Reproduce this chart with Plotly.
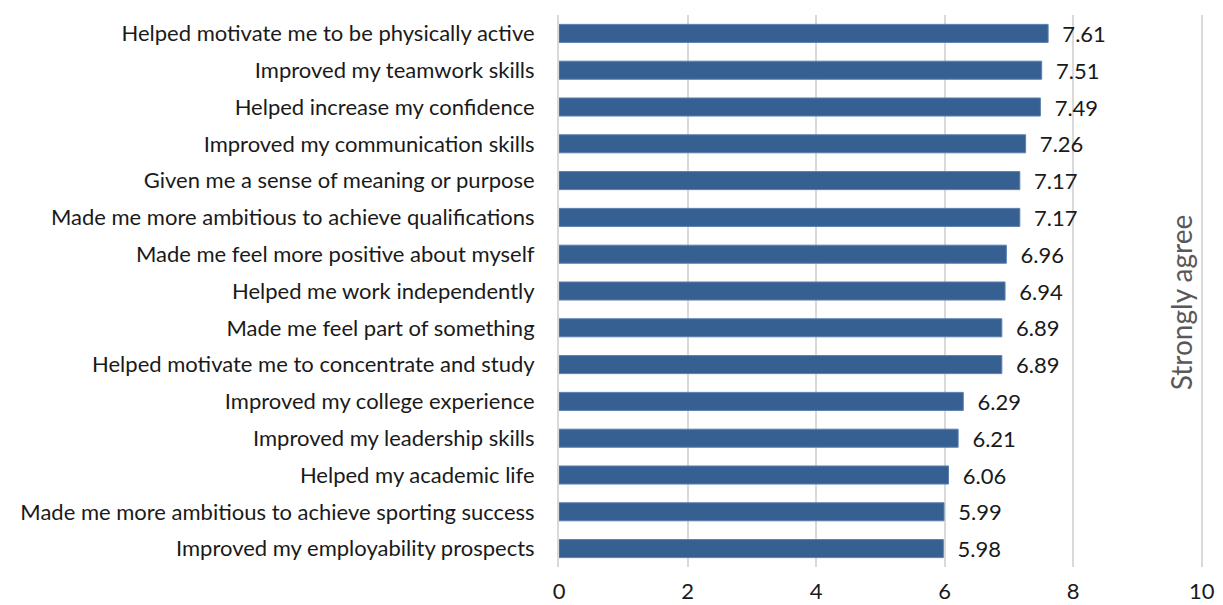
import plotly.graph_objects as go

categories = [
    "Helped motivate me to be physically active",
    "Improved my teamwork skills",
    "Helped increase my confidence",
    "Improved my communication skills",
    "Given me a sense of meaning or purpose",
    "Made me more ambitious to achieve qualifications",
    "Made me feel more positive about myself",
    "Helped me work independently",
    "Made me feel part of something",
    "Helped motivate me to concentrate and study",
    "Improved my college experience",
    "Improved my leadership skills",
    "Helped my academic life",
    "Made me more ambitious to achieve sporting success",
    "Improved my employability prospects",
]
values = [7.61, 7.51, 7.49, 7.26, 7.17, 7.17, 6.96, 6.94, 6.89, 6.89, 6.29, 6.21, 6.06, 5.99, 5.98]
x_ticks = [0, 2, 4, 6, 8, 10]
side_label = "Strongly agree"

FONT = "Lato"
SIZE = 22

fig = go.Figure(go.Bar(
    y=categories,
    x=values,
    orientation="h",
    marker=dict(color="#366092", line=dict(color="#5b7fae", width=1)),
    width=0.49,
    text=[f"  {v:.2f}" for v in values],
    textposition="outside",
    constraintext="none",
    textfont=dict(family=FONT, size=SIZE, color="#1a1a1a"),
    cliponaxis=False,
))

fig.update_layout(
    width=1215, height=597,
    margin=dict(l=551, r=20, t=7, b=38, autoexpand=False),
    plot_bgcolor="white", paper_bgcolor="white",
    showlegend=False,
    font=dict(family=FONT, size=SIZE, color="#1a1a1a"),
    xaxis=dict(
        range=[0, 10.02], tickvals=x_ticks, showgrid=True, gridcolor="#d9d9d9", gridwidth=2,
        zeroline=False, showline=False, ticks="", tickfont=dict(size=SIZE, family=FONT),
        automargin=False, ticklabelstandoff=9, ticklabeloverflow="allow",
    ),
    yaxis=dict(
        showgrid=False, zeroline=False,
        showline=True, linecolor="#d9d9d9", linewidth=2,
        ticks="", ticklabelstandoff=18, automargin=False,
        tickfont=dict(size=SIZE, family=FONT), range=[14.5, -0.5],
    ),
    annotations=[dict(
        text=side_label, x=0.966, xref="paper", y=0.478, yref="paper",
        xanchor="center", yanchor="middle",
        showarrow=False, textangle=-90,
        font=dict(family=FONT, size=28, color="#595959"),
    )],
)

fig.write_html("out.html")
